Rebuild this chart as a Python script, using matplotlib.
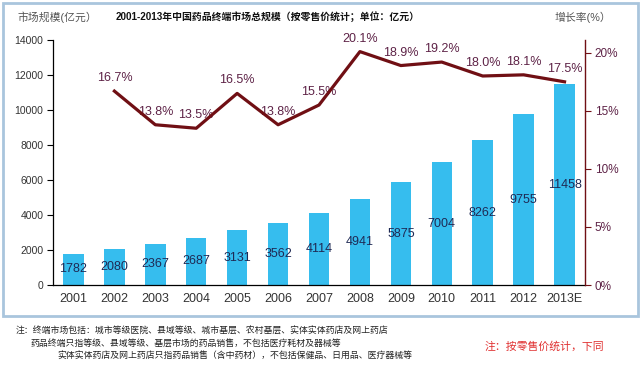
import numpy as np
import matplotlib
matplotlib.use('Agg')
import matplotlib.pyplot as plt
from matplotlib.patches import Rectangle

plt.rcParams['font.family'] = ['Liberation Sans', 'Noto Sans CJK SC', 'DejaVu Sans']
plt.rcParams['axes.unicode_minus'] = False

years = ['2001', '2002', '2003', '2004', '2005', '2006', '2007', '2008', '2009',
         '2010', '2011', '2012', '2013E']
market = [1782, 2080, 2367, 2687, 3131, 3562, 4114, 4941, 5875, 7004, 8262, 9755, 11458]
growth = [None, 16.7, 13.8, 13.5, 16.5, 13.8, 15.5, 20.1, 18.9, 19.2, 18.0, 18.1, 17.5]
left_ticks = [0, 2000, 4000, 6000, 8000, 10000, 12000, 14000]
right_ticks = [0, 5, 10, 15, 20]

bar_c = '#36bdee'
line_c = '#700f14'
pct_c = '#5e2347'
txt_c = '#333333'

fig = plt.figure(figsize=(6.42, 3.65), dpi=100)
ax = fig.add_axes([53/642, 1-285/365, (585-53)/642, (285-40)/365])

x = np.arange(len(years))
ax.bar(x, market, width=0.5, color=bar_c, zorder=2)
for i, v in enumerate(market):
    ax.text(i, v/2.0, str(v), ha='center', va='center', fontsize=9, color='#1f2a55', zorder=3)

ax.set_xlim(-0.5, len(years)-0.5)
ax.set_ylim(0, 14000)
ax.set_yticks(left_ticks)
ax.set_yticklabels([str(t) for t in left_ticks], fontsize=7.5, color=txt_c)
ax.set_xticks(x)
ax.set_xticklabels(years, fontsize=9, color=txt_c)
ax.tick_params(axis='x', length=0, pad=6)
ax.tick_params(axis='y', length=4, width=0.8, color='black', pad=3)
ax.spines['top'].set_visible(False)
ax.spines['right'].set_visible(False)
ax.spines['left'].set_linewidth(0.9)
ax.spines['bottom'].set_linewidth(0.9)

ax2 = ax.twinx()
gx = [i for i, g in enumerate(growth) if g is not None]
gy = [g for g in growth if g is not None]
ax2.plot(gx, gy, color=line_c, lw=2.3, zorder=4)
for i, g in zip(gx, gy):
    ax2.text(i, g + 0.6, '%.1f%%' % g, ha='center', va='bottom', fontsize=9, color=pct_c)
ax2.set_ylim(0, 21.1)
ax2.set_yticks(right_ticks)
ax2.set_yticklabels(['%d%%' % t for t in right_ticks], fontsize=8.5, color=pct_c)
ax2.tick_params(axis='y', length=4, width=0.8, color=line_c, pad=3)
for s in ['top', 'left', 'bottom']:
    ax2.spines[s].set_visible(False)
ax2.spines['right'].set_color(line_c)
ax2.spines['right'].set_linewidth(1.0)

fig.text(268/642, 1-17/365, '2001-2013年中国药品终端市场总规模（按零售价统计；单位：亿元）',
         ha='center', va='center', fontsize=7.1, fontweight='bold', color='#111111')
fig.text(18/642, 1-17/365, '市场规模(亿元）', ha='left', va='center', fontsize=7.8, color='#555555')
fig.text(555/642, 1-17/365, '增长率(%）', ha='left', va='center', fontsize=7.8, color='#555555')

fig.patches.append(Rectangle((3/642, 1-316/365), 635/642, 313/365, transform=fig.transFigure,
                             fill=False, edgecolor='#a9c5dd', lw=2))

fig.text(16/642, 1-331/365, '注：终端市场包括：城市等级医院、县域等级、城市基层、农村基层、实体实体药店及网上药店',
         ha='left', va='center', fontsize=6.4, color='#222222')
fig.text(30/642, 1-343/365, '药品终端只指等级、县域等级、基层市场的药品销售，不包括医疗耗材及器械等',
         ha='left', va='center', fontsize=6.4, color='#222222')
fig.text(57/642, 1-355/365, '实体实体药店及网上药店只指药品销售（含中药材），不包括保健品、日用品、医疗器械等',
         ha='left', va='center', fontsize=6.4, color='#222222')
fig.text(485/642, 1-347/365, '注：按零售价统计，下同', ha='left', va='center', fontsize=7.8, color='#e03030')

fig.savefig('out.png', dpi=100)
